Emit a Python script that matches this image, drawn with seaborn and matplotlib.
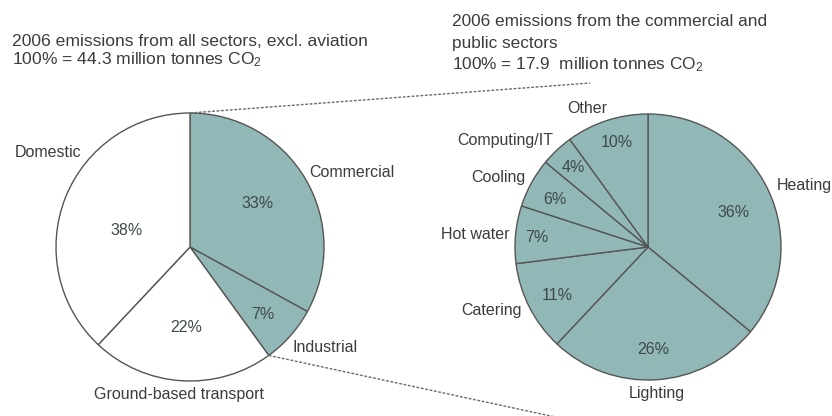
import numpy as np
import matplotlib
matplotlib.use("Agg")
import matplotlib.pyplot as plt
import seaborn as sns

# data
sectors = ["Commercial", "Industrial", "Ground-based transport", "Domestic"]
sector_share = [33, 7, 22, 38]
uses = ["Heating", "Lighting", "Catering", "Hot water", "Cooling", "Computing/IT", "Other"]
use_share = [36, 26, 11, 7, 6, 4, 10]

left_title = ["2006 emissions from all sectors, excl. aviation",
              "100% = 44.3 million tonnes CO$_2$"]
right_title = ["2006 emissions from the commercial and",
               "public sectors",
               "100% = 17.9  million tonnes CO$_2$"]

# label placement (angle in degrees, distance as fraction of radius)
sector_lab_pos = [(24.8, 1.33), (-36.6, 1.26), (-94.2, 1.10), (146.3, 1.27)]
sector_pct_pos = [(32.7, 0.60), (-43.0, 0.74), (-92.9, 0.60), (165.0, 0.49)]
use_lab_pos = [(21.4, 1.26), (-86.5, 1.10), (-158.1, 1.27), (176.0, 1.30),
               (155.0, 1.24), (143.2, 1.34), (113.7, 1.14)]
use_pct_pos = [(21.8, 0.69), (-87.2, 0.77), (-151.9, 0.77), (174.9, 0.84),
               (153.0, 0.79), (133.5, 0.82), (106.6, 0.82)]

sns.set_style("white")
plt.rcParams["font.family"] = ["Liberation Sans", "DejaVu Sans"]
plt.rcParams["mathtext.default"] = "regular"

teal = "#91b8b6"
edge = "#555555"
txt = "#3c3c3c"
H = 416

fig = plt.figure(figsize=(8.32, 4.16), dpi=100)
ax = fig.add_axes([0, 0, 1, 1])

c1, r1 = (190, H - 247), 134
c2, r2 = (648, H - 247), 133

w1, _ = ax.pie(sector_share, startangle=90, counterclock=False, center=c1, radius=r1,
               colors=[teal, teal, "white", "white"],
               wedgeprops=dict(edgecolor=edge, linewidth=1.0))
w2, _ = ax.pie(use_share, startangle=90, counterclock=False, center=c2, radius=r2,
               colors=[teal] * len(use_share),
               wedgeprops=dict(edgecolor=edge, linewidth=1.0))


def put(center, radius, pos, s, size=11.5, color=txt):
    a = np.deg2rad(pos[0])
    x = center[0] + radius * pos[1] * np.cos(a)
    y = center[1] + radius * pos[1] * np.sin(a)
    ax.text(x, y, s, ha="center", va="center", fontsize=size, color=color)


for name, v, lp, pp in zip(sectors, sector_share, sector_lab_pos, sector_pct_pos):
    put(c1, r1, lp, name)
    put(c1, r1, pp, f"{v}%", color="#3e4a4a")

for name, v, lp, pp in zip(uses, use_share, use_lab_pos, use_pct_pos):
    put(c2, r2, lp, name)
    put(c2, r2, pp, f"{v}%", color="#3e4a4a")

# dashed connector lines from the commercial+industrial slice edges
top = (c1[0], c1[1] + r1)
a_ind = np.deg2rad(w1[1].theta1)
low = (c1[0] + r1 * np.cos(a_ind), c1[1] + r1 * np.sin(a_ind))
ax.plot([top[0], 590], [top[1], H - 83], color="#6a6a6a", lw=1.0, ls=(0, (2, 1.2)))
ax.plot([low[0], 560], [low[1], H - 418], color="#6a6a6a", lw=1.0, ls=(0, (2, 1.2)))

# titles
for i, s in enumerate(left_title):
    ax.text(12, H - 42 - 18 * i, s, ha="left", va="center", fontsize=12.6, color=txt)
for i, s in enumerate(right_title):
    ax.text(452, H - 22 - 21.5 * i, s, ha="left", va="center", fontsize=12.4, color=txt)

ax.set_xlim(0, 832)
ax.set_ylim(0, H)
ax.axis("off")

fig.savefig("out.png", dpi=100)
